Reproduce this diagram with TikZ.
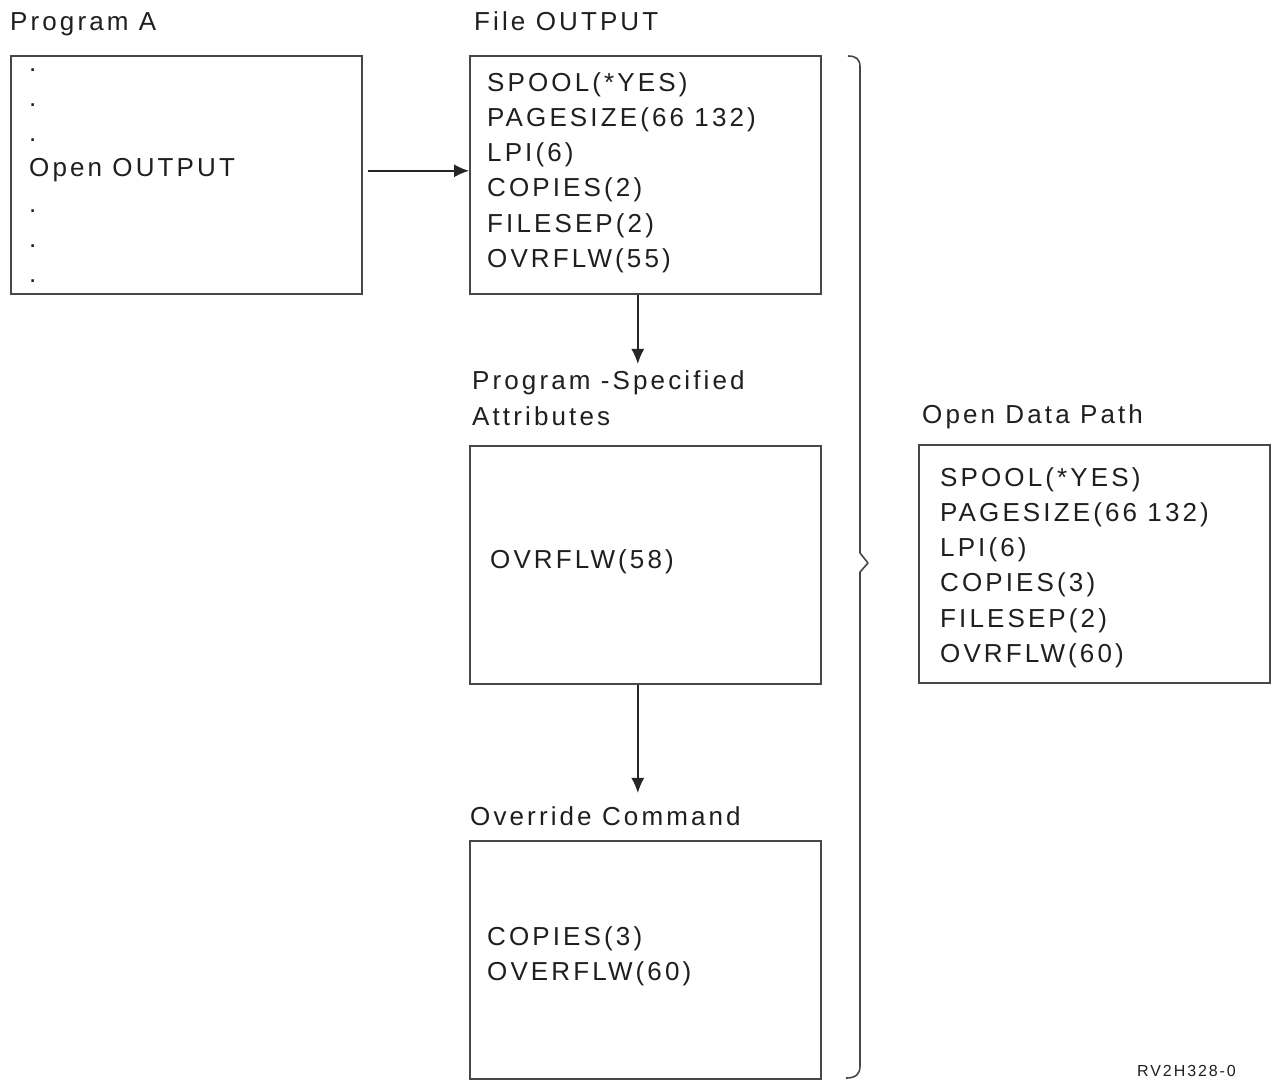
\documentclass[tikz,border=0pt]{standalone}
\usepackage{fontspec}
\setmainfont{Liberation Sans}[LetterSpace=12]
\usetikzlibrary{arrows.meta}
\begin{document}
\begin{tikzpicture}[x=1pt,y=-1pt]
\tikzset{
  box/.style={draw=black!72, line width=1.6pt, anchor=north west, inner sep=0pt,
              minimum width=351pt, minimum height=238pt},
  txt/.style={anchor=north west, inner sep=0pt, align=left, text=black!88,
              font=\fontsize{26}{35.3}\selectfont},
  lbl/.style={anchor=base west, inner sep=0pt, text=black!88,
              font=\fontsize{26}{35}\selectfont},
  arr/.style={draw=black!85, line width=1.4pt, -{Latex[length=15pt,width=13pt]}},
  bracel/.style={draw=black!72, line width=1.6pt, line join=round}
}
\useasboundingbox[fill=white] (0,0) rectangle (1272,1080);

% labels
\node[lbl] (lpa) at (10,30) {Program A};
\node[lbl] (lfo) at (474,30) {File OUTPUT};
\node[lbl] (lps1) at (472,389) {Program -Specified};
\node[lbl] (lps2) at (472,425) {Attributes};
\node[lbl] (loc) at (470,825) {Override Command};
\node[lbl] (lod) at (922,423) {Open Data Path};

% boxes
\node[box] (pa) at (10,55) {};
\node[box] (fo) at (469,55) {};
\node[box] (ps) at (469,445) {};
\node[box] (oc) at (469,840) {};
\node[box] (od) at (918,444) {};

% box contents
\node[txt] (tpa) at (29,52) {\vphantom{(}.\\.\\.\\Open OUTPUT\\.\\.\\.};
\node[txt] (tfo) at (487,72) {SPOOL(*YES)\\PAGESIZE(66 132)\\LPI(6)\\COPIES(2)\\FILESEP(2)\\OVRFLW(55)};
\node[txt] (tps) at (490,549) {OVRFLW(58)};
\node[txt] (toc) at (487,926) {COPIES(3)\\OVERFLW(60)};
\node[txt] (tod) at (940,467) {SPOOL(*YES)\\PAGESIZE(66 132)\\LPI(6)\\COPIES(3)\\FILESEP(2)\\OVRFLW(60)};

% connectors
\draw[arr, shorten <=5pt] ([yshift=4pt]pa.east) -- ([yshift=4pt]fo.west);
\draw[arr] ([xshift=-7.5pt]fo.south) -- ([xshift=-7.5pt,yshift=6pt]fo.south |- lps1.north);
\draw[arr] ([xshift=-7.5pt]ps.south) -- ([xshift=-7.5pt,yshift=13pt]ps.south |- loc.north);

% brace
\draw[bracel] (848,56) .. controls (856,56) and (860,59) .. (860,67)
  -- (860,553) -- (868,563) -- (860,572)
  -- (860,1066) .. controls (860,1074) and (856,1078) .. (846,1078);

% figure id
\node[anchor=base west, inner sep=0pt, text=black!88, font=\fontsize{16}{16}\selectfont] (fid) at (1137,1076) {RV2H328-0};
\end{tikzpicture}
\end{document}
